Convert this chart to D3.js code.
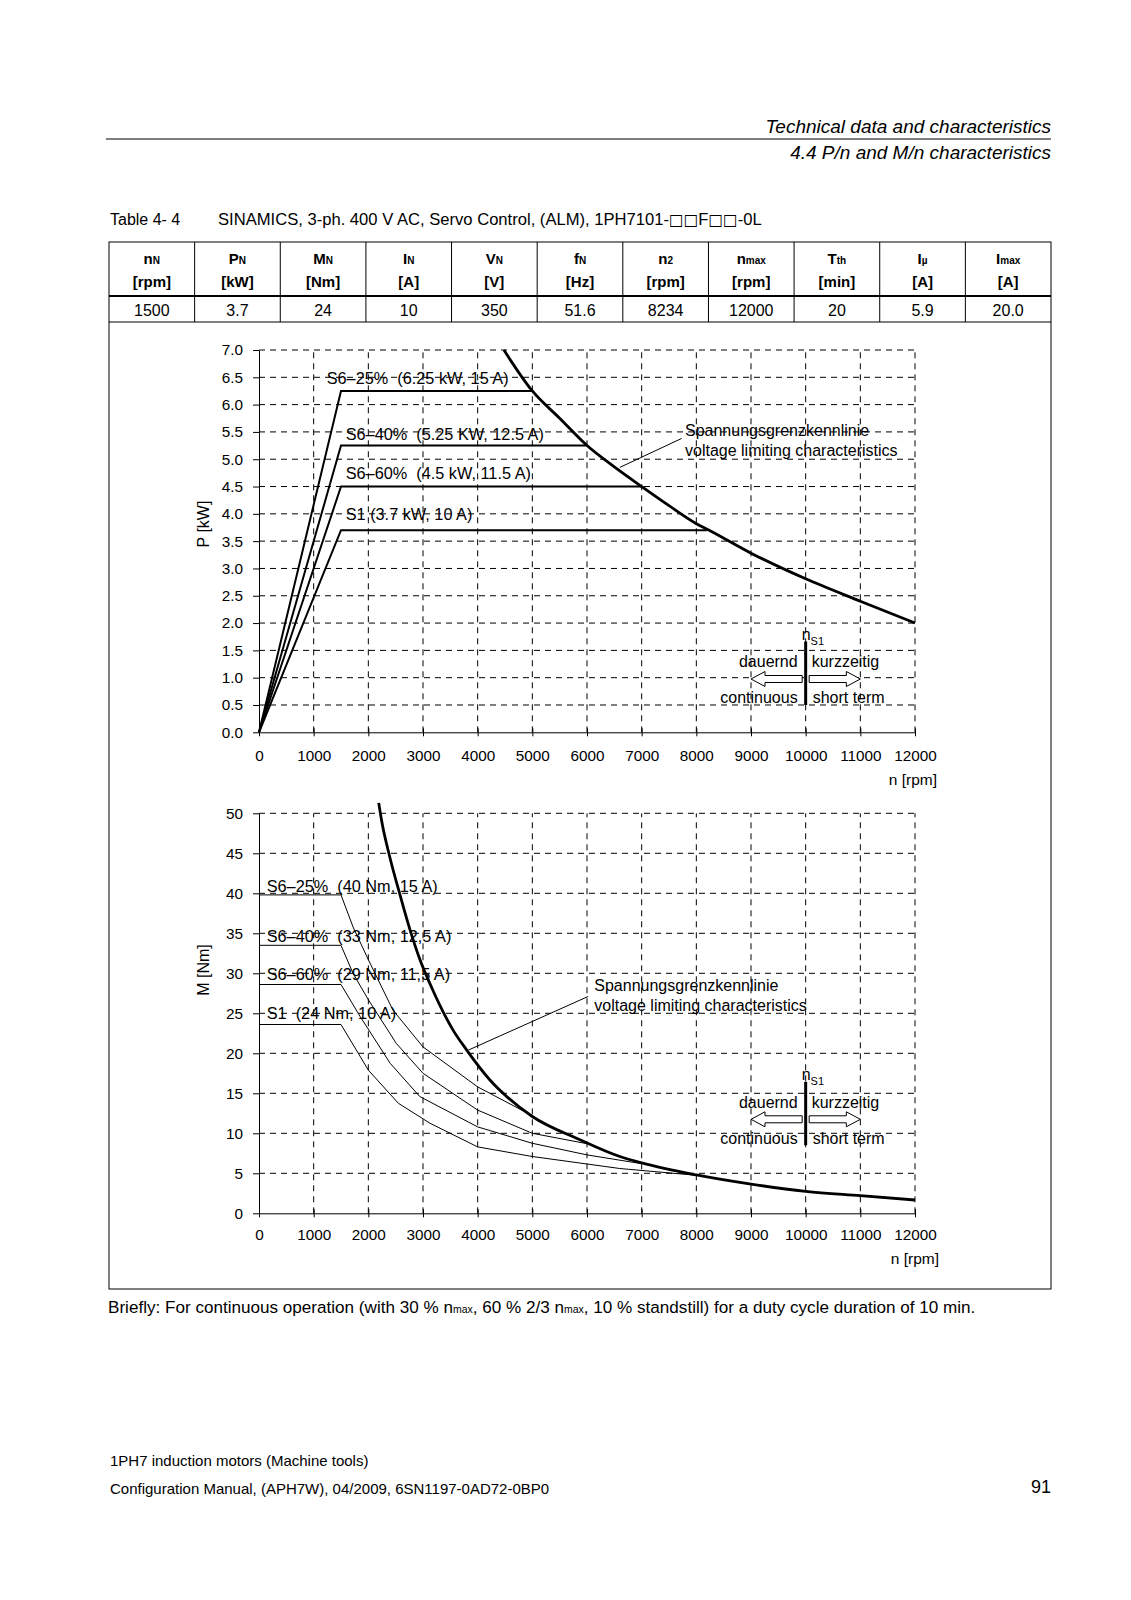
<!DOCTYPE html>
<html>
<head>
<meta charset="utf-8">
<script src="https://cdn.jsdelivr.net/npm/d3@7/dist/d3.min.js"></script>
<style>
  body { margin: 0; background: #fff; }
  svg { display: block; }
  text { font-family: 'Liberation Sans', Arial, Helvetica, sans-serif; fill: #000; }
</style>
</head>
<body>
<svg id="page" width="1131" height="1600"></svg>
<script>
// ---------------- DATA ----------------
// Table 4-4 columns
const colSymbols = ["n", "P", "M", "I", "V", "f", "n", "n", "T", "I", "I"];
const colSubs    = ["N", "N", "N", "N", "N", "N", "2", "max", "th", "\u00b5", "max"];
const colUnits   = ["[rpm]", "[kW]", "[Nm]", "[A]", "[V]", "[Hz]", "[rpm]", "[rpm]", "[min]", "[A]", "[A]"];
const colValues  = ["1500", "3.7", "24", "10", "350", "51.6", "8234", "12000", "20", "5.9", "20.0"];

// Axis ticks
const speedTicks  = [0, 1000, 2000, 3000, 4000, 5000, 6000, 7000, 8000, 9000, 10000, 11000, 12000];
const powerTicks  = [0.0, 0.5, 1.0, 1.5, 2.0, 2.5, 3.0, 3.5, 4.0, 4.5, 5.0, 5.5, 6.0, 6.5, 7.0];
const torqueTicks = [0, 5, 10, 15, 20, 25, 30, 35, 40, 45, 50];

// P/n chart: [speed rpm, power kW]
const powerS6_25 = [[0, 0], [1500, 6.25], [5010, 6.25]];
const powerS6_40 = [[0, 0], [1500, 5.25], [5990, 5.25]];
const powerS6_60 = [[0, 0], [1500, 4.5], [7000, 4.5]];
const powerS1    = [[0, 0], [1500, 3.7], [8190, 3.7]];
const powerVoltageLimit = [[4480, 7.0], [5000, 6.25], [5500, 5.75], [6000, 5.25], [6500, 4.86],
  [7000, 4.5], [7500, 4.15], [8000, 3.82], [8234, 3.7], [9000, 3.28], [10000, 2.81],
  [11000, 2.4], [12000, 2.0]];

// M/n chart: [speed rpm, torque Nm]
const torqueS6_25 = [[0, 39.8], [1500, 39.8], [1720, 35.8], [2000, 31.7], [2450, 25.4],
  [3000, 20.8], [4000, 15.8], [5000, 12.2]];
const torqueS6_40 = [[0, 33.5], [1500, 33.5], [1720, 30.0], [2000, 26.7], [2510, 21.25],
  [3000, 17.5], [4000, 12.9], [5000, 10.0], [6000, 8.7]];
const torqueS6_60 = [[0, 28.6], [1500, 28.6], [1850, 24.6], [2400, 18.75], [2940, 14.6],
  [4000, 10.8], [5000, 8.75], [6000, 7.3], [7000, 6.2]];
const torqueS1 = [[0, 23.6], [1500, 23.6], [2000, 17.9], [2550, 13.75], [3130, 11.25],
  [4000, 8.3], [5000, 7.1], [6600, 5.6], [8000, 4.75]];
const torqueVoltageLimit = [[2190, 51.3], [2240, 49.2], [2390, 44.6], [2580, 39.8], [2760, 35.5],
  [2940, 31.8], [3160, 28.2], [3550, 22.9], [3800, 20.4], [4220, 16.7], [4530, 14.6],
  [5000, 12.1], [5870, 9.2], [6600, 7.1], [7000, 6.3], [8000, 4.8], [9000, 3.65],
  [10000, 2.75], [11000, 2.2], [12000, 1.66]];

// Curve labels
const powerLabels  = ["S6\u201325%  (6.25 kW, 15 A)", "S6\u201340%  (5.25 KW, 12.5 A)", "S6\u201360%  (4.5 kW, 11.5 A)", "S1 (3.7 kW, 10 A)"];
const torqueLabels = ["S6\u201325%  (40 Nm, 15 A)", "S6\u201340%  (33 Nm, 12,5 A)", "S6\u201360%  (29 Nm, 11,5 A)", "S1  (24 Nm, 10 A)"];
const voltageLabel = ["Spannungsgrenzkennlinie", "voltage limiting characteristics"];
const nS1Speed = 10000;

// ---------------- DRAWING ----------------
const svg = d3.select("#page");

// header
svg.append("text").attr("x", 1051).attr("y", 132.5).attr("text-anchor", "end")
  .style("font-size", "19px").style("font-style", "italic").text("Technical data and characteristics");
svg.append("line").attr("x1", 106).attr("x2", 1051).attr("y1", 139).attr("y2", 139)
  .attr("stroke", "#000").attr("stroke-width", 1);
svg.append("text").attr("x", 1051).attr("y", 159.3).attr("text-anchor", "end")
  .style("font-size", "19px").style("font-style", "italic").text("4.4 P/n and M/n characteristics");

svg.append("text").attr("x", 110).attr("y", 224.7).style("font-size", "16px").text("Table 4- 4");
const title = svg.append("text").attr("x", 218).attr("y", 224.7).style("font-size", "16.6px");
title.append("tspan").text("SINAMICS, 3-ph. 400 V AC, Servo Control, (ALM), 1PH7101-");
title.append("tspan").style("font-family", "'DejaVu Sans', sans-serif").style("font-size", "15.5px").text("\u25a1\u25a1");
title.append("tspan").text("F");
title.append("tspan").style("font-family", "'DejaVu Sans', sans-serif").style("font-size", "15.5px").text("\u25a1\u25a1");
title.append("tspan").text("-0L");

// table frame
const tabL = 109, tabR = 1051, tabT = 242, tabB = 1289;
svg.append("rect").attr("x", tabL).attr("y", tabT).attr("width", tabR - tabL).attr("height", tabB - tabT)
  .attr("fill", "none").attr("stroke", "#000").attr("stroke-width", 1);
svg.append("line").attr("x1", tabL).attr("x2", tabR).attr("y1", 296).attr("y2", 296)
  .attr("stroke", "#000").attr("stroke-width", 2.2);
svg.append("line").attr("x1", tabL).attr("x2", tabR).attr("y1", 322).attr("y2", 322)
  .attr("stroke", "#000").attr("stroke-width", 1);

const colScale = d3.scaleBand().domain(d3.range(colSymbols.length)).range([tabL, tabR]);
svg.selectAll("line.coldiv").data(d3.range(1, colSymbols.length)).enter().append("line")
  .attr("class", "coldiv")
  .attr("x1", d => colScale(d)).attr("x2", d => colScale(d))
  .attr("y1", tabT).attr("y2", 322).attr("stroke", "#000").attr("stroke-width", 1);

const headG = svg.selectAll("g.col").data(colSymbols).enter().append("g").attr("class", "col")
  .attr("transform", (d, i) => `translate(${colScale(i) + colScale.bandwidth() / 2},0)`);
const sym = headG.append("text").attr("y", 263.5).attr("text-anchor", "middle")
  .style("font-size", "15px").style("font-weight", "bold");
sym.append("tspan").text(d => d);
sym.append("tspan").style("font-size", "10px").text((d, i) => colSubs[i]);
headG.append("text").attr("y", 286.5).attr("text-anchor", "middle")
  .style("font-size", "15px").style("font-weight", "bold").text((d, i) => colUnits[i]);
headG.append("text").attr("y", 315.8).attr("text-anchor", "middle")
  .style("font-size", "16px").text((d, i) => colValues[i]);

// scales
const x  = d3.scaleLinear().domain([0, 12000]).range([259, 915]);
const yP = d3.scaleLinear().domain([0, 7]).range([732.3, 350]);
const yM = d3.scaleLinear().domain([0, 50]).range([1213.3, 813.3]);

function panel(y, yTicks, fmt, labelDy) {
  const g = svg.append("g");
  const yMax = y.domain()[1];
  // grid
  g.selectAll("line.hg").data(yTicks.filter(d => d > 0)).enter().append("line")
    .attr("x1", x(0)).attr("x2", x(12000)).attr("y1", d => y(d)).attr("y2", d => y(d))
    .attr("stroke", "#000").attr("stroke-width", 1).attr("stroke-dasharray", "6,5");
  g.selectAll("line.vg").data(speedTicks.filter(d => d > 0)).enter().append("line")
    .attr("x1", d => x(d)).attr("x2", d => x(d)).attr("y1", y(0)).attr("y2", y(yMax))
    .attr("stroke", "#000").attr("stroke-width", 1).attr("stroke-dasharray", "6,5");
  // axes
  const ax = g.append("g").attr("transform", `translate(${x(0)},0)`)
    .call(d3.axisLeft(y).tickValues(yTicks).tickFormat(fmt).tickSize(6).tickSizeOuter(0).tickPadding(10));
  const bx = g.append("g").attr("transform", `translate(0,${y(0)})`)
    .call(d3.axisBottom(x).tickValues(speedTicks).tickFormat(d3.format("d")).tickSize(4).tickSizeOuter(0));
  bx.selectAll(".tick line").attr("y1", -4);
  bx.selectAll(".tick text").attr("y", labelDy).attr("dy", "0.35em");
  [ax, bx].forEach(a => {
    a.attr("font-family", null).attr("font-size", null);
    a.selectAll("text").style("font-size", "15.3px").attr("fill", "#000");
    a.selectAll("path, line").attr("stroke", "#000").attr("stroke-width", 1);
  });
  return g;
}

const gP = panel(yP, powerTicks, d3.format(".1f"), 23.7);
const gM = panel(yM, torqueTicks, d3.format("d"), 21.7);

const lineP = d3.line().x(d => x(d[0])).y(d => yP(d[1]));
const lineM = d3.line().x(d => x(d[0])).y(d => yM(d[1]));
const smoothP = d3.line().x(d => x(d[0])).y(d => yP(d[1])).curve(d3.curveMonotoneX);
const smoothM = d3.line().x(d => x(d[0])).y(d => yM(d[1])).curve(d3.curveMonotoneX);

[powerS6_25, powerS6_40, powerS6_60, powerS1].forEach(s => {
  gP.append("path").attr("d", lineP(s)).attr("fill", "none").attr("stroke", "#000")
    .attr("stroke-width", 2).attr("stroke-linejoin", "miter");
});
gP.append("path").attr("d", smoothP(powerVoltageLimit)).attr("fill", "none").attr("stroke", "#000")
  .attr("stroke-width", 2.8);

[torqueS6_25, torqueS6_40, torqueS6_60, torqueS1].forEach(s => {
  gM.append("path").attr("d", lineM(s)).attr("fill", "none").attr("stroke", "#000")
    .attr("stroke-width", 1);
});
gM.append("path").attr("d", smoothM(torqueVoltageLimit)).attr("fill", "none").attr("stroke", "#000")
  .attr("stroke-width", 2.8);

// curve labels
const pLabelPos = [[326.7, 378], [345.7, 434], [345.7, 472.7], [345.7, 514]];
powerLabels.forEach((t, i) => {
  gP.append("text").attr("x", pLabelPos[i][0]).attr("y", pLabelPos[i][1]).attr("dy", "0.36em")
    .style("font-size", "16.3px").style("white-space", "pre").attr("xml:space", "preserve").text(t);
});
const mLabelY = [886, 936, 974, 1013];
torqueLabels.forEach((t, i) => {
  gM.append("text").attr("x", 266.7).attr("y", mLabelY[i]).attr("dy", "0.36em")
    .style("font-size", "16.3px").style("white-space", "pre").attr("xml:space", "preserve").text(t);
});

// voltage limiting annotation
function voltageNote(g, line, leader, textX, textY) {
  g.append("path").attr("d", line(leader)).attr("fill", "none").attr("stroke", "#000").attr("stroke-width", 1);
  voltageLabel.forEach((t, i) => {
    g.append("text").attr("x", textX).attr("y", textY + i * 20).attr("dy", "0.36em")
      .style("font-size", "16px").text(t);
  });
}
voltageNote(gP, lineP, [[6600, 4.85], [7730, 5.38]], 685, 430);
voltageNote(gM, lineM, [[3830, 20.4], [6020, 27.1]], 594.3, 985);

// n_S1 marker with arrows
function nS1Marker(g, cy) {
  const xc = x(nS1Speed);
  g.append("line").attr("x1", xc).attr("x2", xc).attr("y1", cy - 37.5).attr("y2", cy + 26)
    .attr("stroke", "#000").attr("stroke-width", 3);
  const n = g.append("text").attr("x", xc - 4).attr("y", cy - 45).attr("dy", "0.36em").style("font-size", "16px");
  n.append("tspan").text("n");
  n.append("tspan").attr("dy", 5).style("font-size", "11px").text("S1");
  g.append("text").attr("x", xc - 8).attr("y", cy - 17.5).attr("dy", "0.36em")
    .attr("text-anchor", "end").style("font-size", "16px").text("dauernd");
  g.append("text").attr("x", xc + 6).attr("y", cy - 17.5).attr("dy", "0.36em")
    .style("font-size", "16px").text("kurzzeitig");
  g.append("text").attr("x", xc - 8).attr("y", cy + 18.5).attr("dy", "0.36em")
    .attr("text-anchor", "end").style("font-size", "16px").text("continuous");
  g.append("text").attr("x", xc + 7).attr("y", cy + 18.5).attr("dy", "0.36em")
    .style("font-size", "16px").text("short term");
  const arrow = (base, tip) => {
    const dir = tip < base ? 1 : -1;
    const hb = tip + dir * 14;
    return `M${base},${cy - 3.5}L${hb},${cy - 3.5}L${hb},${cy - 7.5}L${tip},${cy}L${hb},${cy + 7.5}L${hb},${cy + 3.5}L${base},${cy + 3.5}Z`;
  };
  g.append("path").attr("d", arrow(xc - 3.5, x(nS1Speed - 1000))).attr("fill", "#fff").attr("stroke", "#000").attr("stroke-width", 1);
  g.append("path").attr("d", arrow(xc + 3.5, x(nS1Speed + 1000))).attr("fill", "#fff").attr("stroke", "#000").attr("stroke-width", 1);
}
nS1Marker(gP, 679);
nS1Marker(gM, 1119.3);

// axis titles
svg.append("text").attr("transform", "translate(203,524) rotate(-90)").attr("text-anchor", "middle")
  .attr("dy", "0.36em").style("font-size", "16px").text("P [kW]");
svg.append("text").attr("transform", "translate(203,970) rotate(-90)").attr("text-anchor", "middle")
  .attr("dy", "0.36em").style("font-size", "16px").text("M [Nm]");
svg.append("text").attr("x", 937).attr("y", 779).attr("dy", "0.36em").attr("text-anchor", "end")
  .style("font-size", "15.5px").text("n [rpm]");
svg.append("text").attr("x", 939).attr("y", 1258).attr("dy", "0.36em").attr("text-anchor", "end")
  .style("font-size", "15.5px").text("n [rpm]");

// footnote
const fn = svg.append("text").attr("x", 108).attr("y", 1313).style("font-size", "17.1px").attr("xml:space", "preserve");
fn.append("tspan").text("Briefly: For continuous operation (with 30 % n");
fn.append("tspan").style("font-size", "10.5px").text("max");
fn.append("tspan").text(", 60 % 2/3 n");
fn.append("tspan").style("font-size", "10.5px").text("max");
fn.append("tspan").text(", 10 % standstill) for a duty cycle duration of 10 min.");

// footer
svg.append("text").attr("x", 110).attr("y", 1466.4).style("font-size", "15px").text("1PH7 induction motors (Machine tools)");
svg.append("text").attr("x", 110).attr("y", 1494).style("font-size", "15px")
  .text("Configuration Manual, (APH7W), 04/2009, 6SN1197-0AD72-0BP0");
svg.append("text").attr("x", 1051).attr("y", 1493).attr("text-anchor", "end").style("font-size", "18px").text("91");
</script>
</body>
</html>
